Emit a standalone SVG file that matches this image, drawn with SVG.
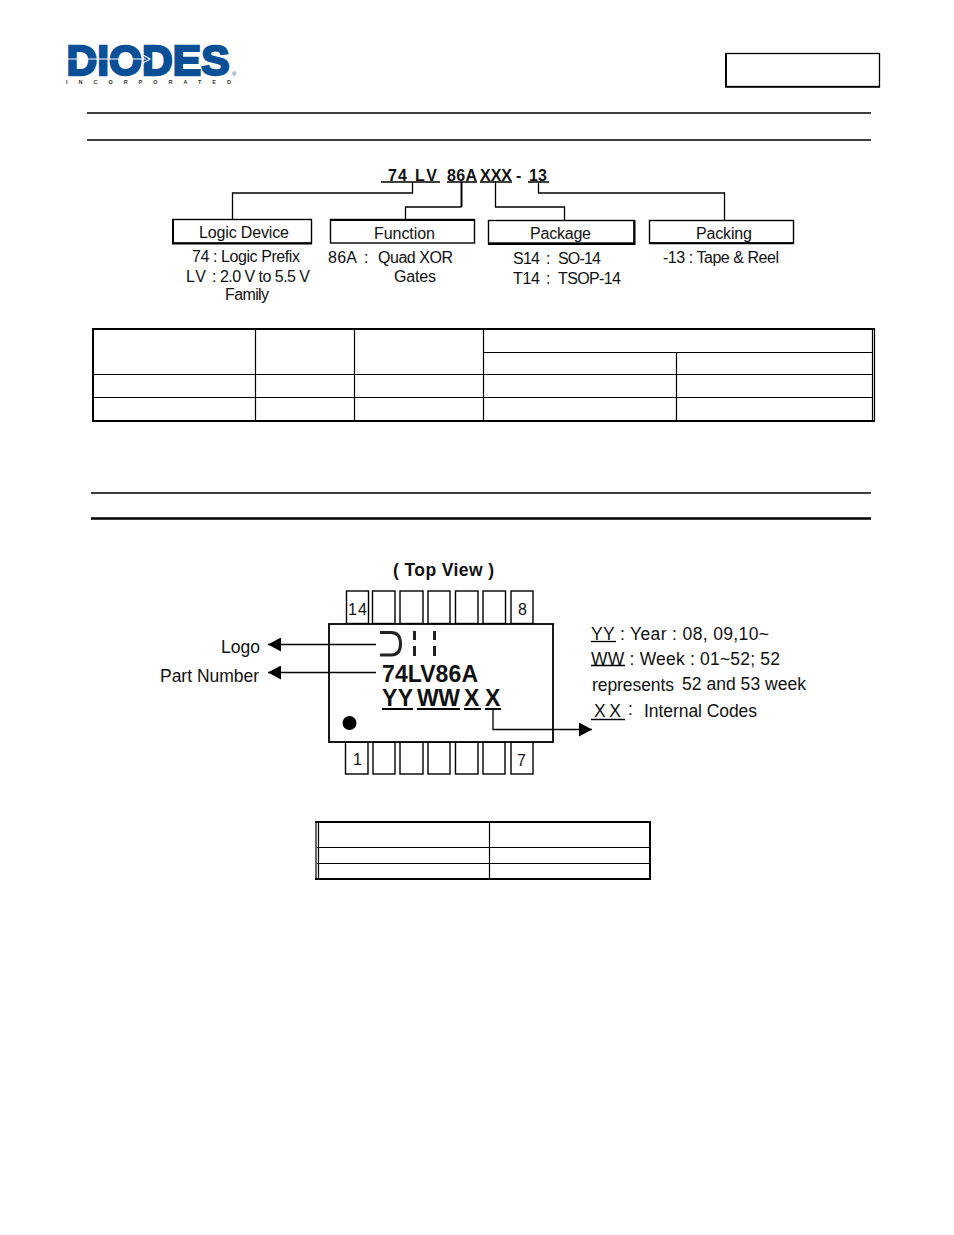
<svg xmlns="http://www.w3.org/2000/svg" width="954" height="1235" viewBox="0 0 954 1235">
<style>
text{font-family:"Liberation Sans",Arial,sans-serif;fill:#111}
.t{font-size:16px}
.r{font-size:17.5px}
.b{font-weight:bold}
.k{fill:none;stroke:#000;stroke-width:1.3}
.k2{fill:none;stroke:#000;stroke-width:2}
.box{fill:#fff;stroke:#000;stroke-width:1.4}
.pin{fill:#fff;stroke:#000;stroke-width:1.4}
</style>
<defs>
<marker id="arr" markerUnits="userSpaceOnUse" markerWidth="14" markerHeight="14" refX="13" refY="7" orient="auto"><path d="M0 0L13 7L0 14z" fill="#000"/></marker>
</defs>
<rect width="954" height="1235" fill="#fff"/>

<g id="logo">
<text x="66.500" y="74.800" font-size="43" font-weight="bold" textLength="163" lengthAdjust="spacingAndGlyphs" style="fill:#0b4f97;stroke:#0b4f97;stroke-width:2.4">DIODES</text>
<path d="M66 59H146M143 55L150 59L143 63" stroke="#fff" stroke-width="1.200" fill="none"/>
<text x="66" y="84" font-size="5.500" font-weight="bold" textLength="165" style="fill:#333">INCORPORATED</text>
<text x="232" y="76" font-size="6" style="fill:#0b4f97">®</text>
</g>
<g id="doc-box"><rect x="726" y="53.500" width="153.500" height="33" fill="#fff" stroke="#000" stroke-width="1.300"/><path d="M726 53V86.800H880" fill="none" stroke="#000" stroke-width="1.800"/></g>
<g id="rules">
<path d="M87 113H871M87 140H871" stroke="#000" stroke-width="1.600" fill="none"/>
<path d="M91 493H871" stroke="#000" stroke-width="1.600" fill="none"/>
<path d="M91 518.500H871" stroke="#000" stroke-width="2.600" fill="none"/>
</g>

<g id="part-code">
<text class="t b" x="388" y="180.500" textLength="19">74</text>
<text class="t b" x="415" y="180.500" textLength="22">LV</text>
<text class="t b" x="447" y="180.500" textLength="30">86A</text>
<text class="t b" x="480" y="180.500" textLength="32">XXX</text>
<text class="t b" x="516" y="180.500">-</text>
<text class="t b" x="529" y="180.500" textLength="18">13</text>
<path d="M381 182H440M447 182H477M480 182H512M528 182H549" stroke="#000" stroke-width="1.400" fill="none"/>
</g>

<g id="logic-device">
<rect class="box" x="173" y="219.500" width="138.500" height="23.500"/>
<path class="k2" d="M173 219V243.500H312"/>
<text class="t" x="199" y="237.500" textLength="90">Logic Device</text>
<text class="t" x="192" y="261.500" textLength="108">74 : Logic Prefix</text>
<text class="t" x="186" y="282" textLength="20">LV</text>
<text class="t" x="212" y="282">:</text>
<text class="t" x="220" y="282" textLength="90">2.0 V to 5.5 V</text>
<text class="t" x="225" y="300" textLength="44">Family</text>
</g>
<g id="function">
<rect class="box" x="330.500" y="219.500" width="144" height="23.500"/>
<path class="k2" d="M330 220H475"/>
<text class="t" x="374" y="239" textLength="61">Function</text>
<text class="t" x="328" y="263" textLength="29">86A</text>
<text class="t" x="364" y="263">:</text>
<text class="t" x="378" y="263" textLength="75">Quad XOR</text>
<text class="t" x="394" y="282" textLength="42">Gates</text>
</g>
<g id="package">
<rect class="box" x="488.500" y="220.500" width="145.500" height="22.500"/>
<path class="k2" d="M634.500 220V244H488"/>
<text class="t" x="530" y="239" textLength="61">Package</text>
<text class="t" x="513" y="264" textLength="27">S14</text>
<text class="t" x="546" y="264">:</text>
<text class="t" x="558" y="264" textLength="43">SO-14</text>
<text class="t" x="513" y="284" textLength="27">T14</text>
<text class="t" x="546" y="284">:</text>
<text class="t" x="558" y="284" textLength="63">TSOP-14</text>
</g>
<g id="packing">
<rect class="box" x="649.500" y="220.500" width="144" height="22.500"/>
<path class="k2" d="M649 243.200H794"/>
<text class="t" x="696" y="239" textLength="56">Packing</text>
<text class="t" x="663" y="263" textLength="116">-13 : Tape &amp; Reel</text>
</g>

<g id="ordering-table" fill="none" stroke="#000">
<path stroke-width="2" d="M875 329H93V421H875"/>
<path stroke-width="1.200" d="M874.500 329V421M872.500 329V421M255.500 329V421M354.500 329V421M483.500 329V421M676.500 352.500V421M483.500 352.500H873M93 374.500H873M93 397.500H873"/>
</g>

<g id="top-view"><text x="393" y="576" font-size="17.500" font-weight="bold" textLength="101">( Top View )</text></g>

<g id="chip">
<rect class="pin" x="346.500" y="591" width="22" height="32.500"/>
<rect class="pin" x="372.500" y="591" width="22.500" height="32.500"/>
<rect class="pin" x="400" y="591" width="23" height="32.500"/>
<rect class="pin" x="428" y="591" width="22" height="32.500"/>
<rect class="pin" x="455.500" y="591" width="22.500" height="32.500"/>
<rect class="pin" x="483" y="591" width="22.500" height="32.500"/>
<rect class="pin" x="511" y="591" width="22" height="32.500"/>
<rect class="pin" x="345.500" y="742" width="22.500" height="32"/>
<rect class="pin" x="373" y="742" width="22" height="32"/>
<rect class="pin" x="400" y="742" width="23" height="32"/>
<rect class="pin" x="428" y="742" width="22" height="32"/>
<rect class="pin" x="455.500" y="742" width="22.500" height="32"/>
<rect class="pin" x="483" y="742" width="22" height="32"/>
<rect class="pin" x="511" y="742" width="22" height="32"/>
<rect x="329" y="624" width="224" height="118" fill="#fff" stroke="#000" stroke-width="1.800"/>
<text x="348" y="614.500" font-size="16" textLength="19">14</text>
<text x="518" y="614.500" font-size="16">8</text>
<text x="353" y="765" font-size="16">1</text>
<text x="517" y="766" font-size="16">7</text>
<path d="M380 632.500H391C398 632.500 400.500 637 400.500 644C400.500 651 398 655 391 655H380" fill="none" stroke="#222" stroke-width="3"/>
<path d="M414.500 631V640M414.500 646V656M434.500 631V640M434.500 646V656" stroke="#222" stroke-width="3" fill="none"/>
<text x="382" y="682" font-size="23" font-weight="bold" textLength="96">74LV86A</text>
<text x="382" y="706" font-size="23" font-weight="bold" textLength="31">YY</text>
<text x="417" y="706" font-size="23" font-weight="bold" textLength="43">WW</text>
<text x="464" y="706" font-size="23" font-weight="bold" textLength="17">X</text>
<text x="485" y="706" font-size="23" font-weight="bold" textLength="16">X</text>
<path d="M382 709H413M417 709H460M464 709H481M485 709H501" stroke="#000" stroke-width="1.800" fill="none"/>
<circle cx="349.500" cy="723" r="7" fill="#000"/>
</g>

<g id="labels-left">
<text class="r" x="221" y="653" textLength="39">Logo</text>
<text class="r" x="160" y="682" textLength="99">Part Number</text>
</g>

<g id="legend">
<text class="r" x="591" y="640" textLength="178">YY : Year : 08, 09,10~</text>
<path d="M591 641.500H616" class="k"/>
<text class="r" x="591" y="665" textLength="189">WW : Week : 01~52; 52</text>
<path d="M591 665.500H625" class="k"/>
<text class="r" x="592" y="691" textLength="82">represents</text>
<text class="r" x="682" y="690" textLength="124">52 and 53 week</text>
<text class="r" x="594" y="717" textLength="27">XX</text>
<path d="M591 719.500H625" class="k"/>
<text class="r" x="628" y="715">:</text>
<text class="r" x="644" y="717" textLength="113">Internal Codes</text>
</g>

<g id="marking-table" fill="none" stroke="#000">
<path stroke-width="2" d="M315 822H650V879H315"/>
<path stroke-width="1.200" d="M316 822V879M318.500 822V879"/>
<path stroke-width="1.200" d="M489.500 822V879M317 847.500H650M317 863.500H650"/>
</g>

<g id="connectors">
<path class="k" d="M412.500 182V193H232.500V219"/>
<path class="k2" d="M461.500 182V207"/>
<path class="k" d="M461.500 207H405.500V219"/>
<path class="k" d="M495.500 182V207H564.500V220"/>
<path class="k" d="M538.500 182V193H724.500V220"/>
<path class="k" d="M376 644.500H268" marker-end="url(#arr)"/>
<path class="k" d="M376 672.500H268" marker-end="url(#arr)"/>
<path class="k" d="M493 709V729.500H592" marker-end="url(#arr)"/>
</g>
</svg>
